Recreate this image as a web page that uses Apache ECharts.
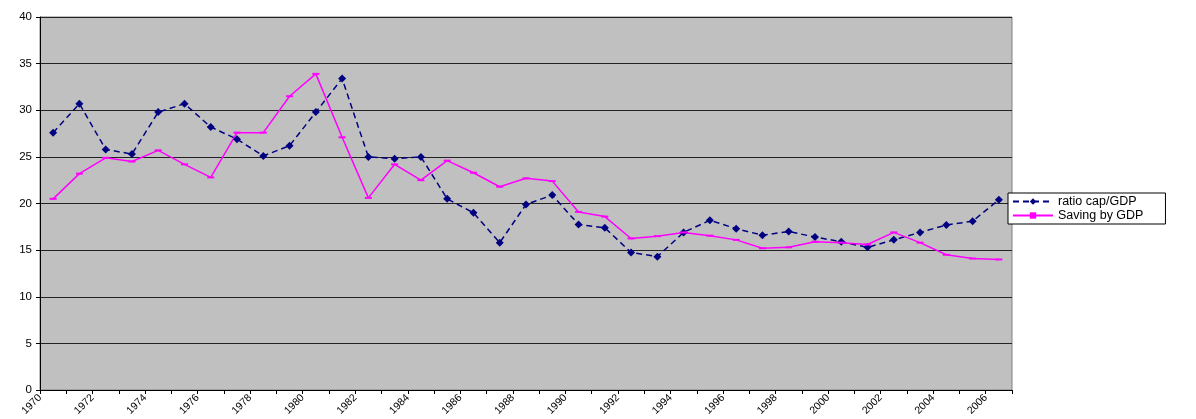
<!DOCTYPE html>
<html>
<head>
<meta charset="utf-8">
<script src="https://cdn.jsdelivr.net/npm/echarts@6/dist/echarts.min.js"></script>
<style>body{margin:0;background:#fff}#c{width:1196px;height:419px}</style>
</head>
<body>
<div id="c"></div>
<script>
var years = [];
for (var y = 1970; y <= 2006; y++) years.push(String(y));
var boundaryYears = years.concat(['2007']);
var ratioCap = [27.6, 30.7, 25.8, 25.3, 29.8, 30.7, 28.2, 26.9, 25.1, 26.2, 29.8, 33.4, 25.0, 24.8, 25.0, 20.5, 19.0, 15.8,
  19.9, 20.9, 17.75, 17.4, 14.75, 14.3, 16.9, 18.2, 17.3, 16.6, 17.0, 16.4, 15.9, 15.3, 16.1, 16.9, 17.7, 18.1, 20.4];
var saving = [20.5, 23.2, 24.9, 24.5, 25.7, 24.2, 22.8, 27.6, 27.6, 31.5, 33.9, 27.1, 20.6, 24.2, 22.5, 24.6, 23.3, 21.8,
  22.7, 22.4, 19.1, 18.6, 16.25, 16.5, 16.9, 16.55, 16.1, 15.2, 15.3, 15.9, 15.8, 15.6, 16.9, 15.8, 14.5, 14.1, 14.0];

var chart = echarts.init(document.getElementById('c'));
chart.setOption({
  animation: false,
  grid: { left: 40, right: 184, top: 17, bottom: 29, backgroundColor: '#c0c0c0', show: true, borderColor: '#808080', borderWidth: 1 },
  legend: {
    orient: 'vertical', left: 1008, top: 193,
    backgroundColor: '#fff', borderColor: '#000', borderWidth: 1,
    padding: [2, 22, 2, 4], itemGap: 1, itemWidth: 40, itemHeight: 8,
    textStyle: { fontFamily: 'Arial', fontSize: 12.5, color: '#000' },
    data: ['ratio cap/GDP', 'Saving by GDP']
  },
  xAxis: [{
    type: 'category', data: years, boundaryGap: true,
    axisLine: { lineStyle: { color: '#000' } },
    axisTick: { show: false }, axisLabel: { show: false }
  }, {
    type: 'category', data: boundaryYears, boundaryGap: false, position: 'bottom',
    axisLine: { show: false },
    axisTick: { show: true, interval: 0, length: 4, lineStyle: { color: '#000' } },
    axisLabel: { interval: 1, rotate: 45, fontFamily: 'Arial', fontSize: 10.5, color: '#000', margin: 6,
      formatter: function (v) { return v === '2007' ? '' : v; } }
  }],
  yAxis: {
    type: 'value', min: 0, max: 40, interval: 5,
    axisLine: { show: true, lineStyle: { color: '#000' } },
    axisTick: { show: true, length: 4, lineStyle: { color: '#000' } },
    axisLabel: { fontFamily: 'Arial', fontSize: 11.5, color: '#000', margin: 8 },
    splitLine: { lineStyle: { color: '#222', width: 1 } }
  },
  series: [{
    name: 'ratio cap/GDP', type: 'line', data: ratioCap,
    symbol: 'diamond', symbolSize: 8,
    lineStyle: { color: '#000080', width: 1.5, type: [6, 4] },
    itemStyle: { color: '#000080' }
  }, {
    name: 'Saving by GDP', type: 'line', data: saving,
    symbol: 'rect', symbolSize: [7, 2],
    lineStyle: { color: '#ff00ff', width: 1.5 },
    itemStyle: { color: '#ff00ff' }
  }]
});
</script>
</body>
</html>
